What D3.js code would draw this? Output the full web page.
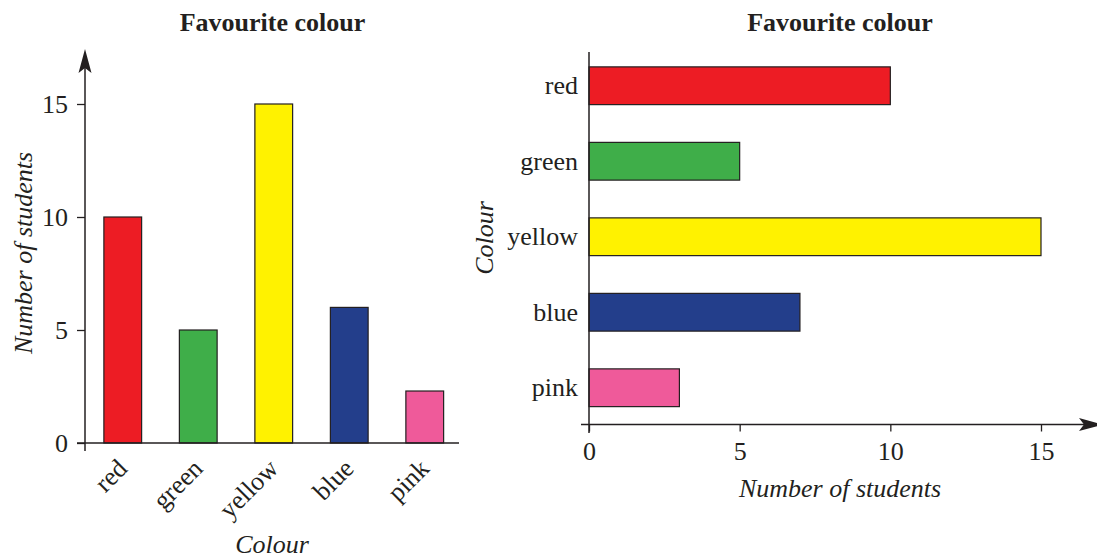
<!DOCTYPE html>
<html><head><meta charset="utf-8">
<script src="https://cdn.jsdelivr.net/npm/d3@7"></script>
<style>
body{margin:0;background:#fff;}
svg{display:block;font-family:"Liberation Serif","Times New Roman",serif;}
text{fill:#231F20;}
</style></head>
<body><svg id="c" width="1097" height="558"></svg>
<script>
const categories = ["red","green","yellow","blue","pink"];
const leftValues = [10, 5, 15, 6, 2.3];
const rightValues = [10, 5, 15, 7, 3];
const barColours = ["#ED1C24","#3FAE49","#FFF200","#233E8B","#EF5A9A"];
const tickValues = [0, 5, 10, 15];
const titleText = "Favourite colour";
const valueLabel = "Number of students";
const categoryLabel = "Colour";

const ink = "#231F20";
const svg = d3.select("#c");

function arrowHead(g, x, y, angle){
  g.append("path")
    .attr("d","M0,0 L-24,-6.5 L-19,0 L-24,6.5 Z")
    .attr("transform",`translate(${x},${y}) rotate(${angle})`)
    .attr("fill",ink);
}

// ---------- Left chart ----------
{
  const g = svg.append("g");
  const y = d3.scaleLinear().domain([0,15]).range([443,104]);
  const x = d3.scaleBand().domain(categories).range([85,462.5]).paddingInner(0.5).paddingOuter(0.25);

  g.selectAll("rect.bar").data(categories).join("rect")
    .attr("x", d=>x(d)).attr("width", x.bandwidth())
    .attr("y", (d,i)=>y(leftValues[i])).attr("height",(d,i)=>y(0)-y(leftValues[i]))
    .attr("fill",(d,i)=>barColours[i]).attr("stroke",ink).attr("stroke-width",1.2);

  const ya = g.append("g").attr("transform","translate(85,0)")
    .call(d3.axisLeft(y).tickValues(tickValues).tickSize(8).tickPadding(9).tickFormat(d3.format("d")));
  ya.attr("font-family",null);
  ya.select(".domain").remove();
  ya.selectAll("line").attr("stroke",ink).attr("stroke-width",1.3);
  ya.selectAll("text").attr("font-size",26).attr("fill",ink);

  g.append("line").attr("x1",77).attr("x2",459).attr("y1",y(0)).attr("y2",y(0)).attr("stroke",ink).attr("stroke-width",1.5);
  g.append("line").attr("x1",85).attr("x2",85).attr("y1",451).attr("y2",55).attr("stroke",ink).attr("stroke-width",1.5);
  arrowHead(g,85,49,-90);

  g.selectAll("text.cat").data(categories).join("text")
    .attr("class","cat")
    .attr("transform",d=>`translate(${x(d)+x.bandwidth()/2+6},${470}) rotate(-45)`)
    .attr("text-anchor","end").attr("font-size",26).text(d=>d);

  g.append("text").attr("x",272.5).attr("y",31).attr("text-anchor","middle")
    .attr("font-size",26).attr("font-weight","bold").text(titleText);
  g.append("text").attr("x",272).attr("y",553).attr("text-anchor","middle")
    .attr("font-size",26).attr("font-style","italic").text(categoryLabel);
  g.append("text").attr("transform","translate(32,253) rotate(-90)").attr("text-anchor","middle")
    .attr("font-size",26).attr("font-style","italic").text(valueLabel);
}

// ---------- Right chart ----------
{
  const g = svg.append("g");
  const x = d3.scaleLinear().domain([0,15]).range([589,1041]);
  const y = d3.scaleBand().domain(categories).range([48,425.5]).paddingInner(0.5).paddingOuter(0.25);

  g.selectAll("rect.bar").data(categories).join("rect")
    .attr("y", d=>y(d)).attr("height", y.bandwidth())
    .attr("x", x(0)).attr("width",(d,i)=>x(rightValues[i])-x(0))
    .attr("fill",(d,i)=>barColours[i]).attr("stroke",ink).attr("stroke-width",1.2);

  const xa = g.append("g").attr("transform","translate(0,424.5)")
    .call(d3.axisBottom(x).tickValues(tickValues).tickSize(7).tickPadding(10).tickFormat(d3.format("d")));
  xa.attr("font-family",null);
  xa.select(".domain").remove();
  xa.selectAll("line").attr("stroke",ink).attr("stroke-width",1.3);
  xa.selectAll("text").attr("font-size",26).attr("fill",ink);

  g.append("line").attr("x1",581).attr("x2",1090).attr("y1",424.5).attr("y2",424.5).attr("stroke",ink).attr("stroke-width",1.5);
  g.append("line").attr("x1",589).attr("x2",589).attr("y1",52).attr("y2",433).attr("stroke",ink).attr("stroke-width",1.5);
  arrowHead(g,1103,424.5,0);

  g.selectAll("text.cat").data(categories).join("text")
    .attr("class","cat")
    .attr("x",578).attr("y",d=>y(d)+y.bandwidth()/2).attr("dy","0.33em")
    .attr("text-anchor","end").attr("font-size",26).text(d=>d);

  g.append("text").attr("x",840).attr("y",31).attr("text-anchor","middle")
    .attr("font-size",26).attr("font-weight","bold").text(titleText);
  g.append("text").attr("x",840).attr("y",497).attr("text-anchor","middle")
    .attr("font-size",26).attr("font-style","italic").text(valueLabel);
  g.append("text").attr("transform","translate(493,238) rotate(-90)").attr("text-anchor","middle")
    .attr("font-size",26).attr("font-style","italic").text(categoryLabel);
}
</script></body></html>
